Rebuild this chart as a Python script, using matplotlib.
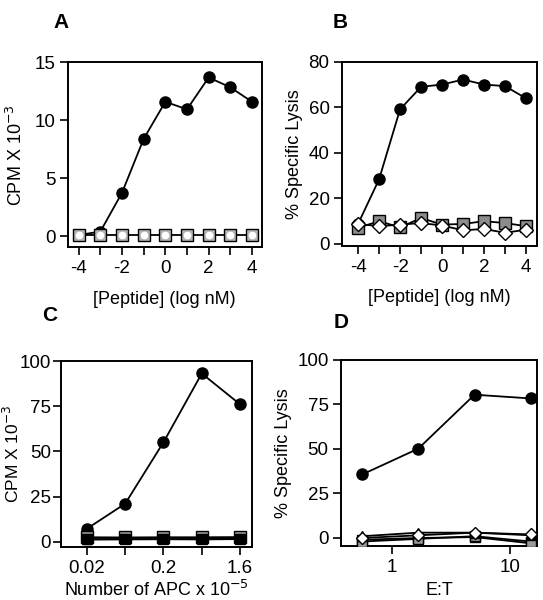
import numpy as np
import matplotlib.pyplot as plt
from matplotlib.ticker import NullLocator

plt.rcParams['font.family'] = ['Liberation Sans', 'DejaVu Sans']
plt.rcParams['font.size'] = 12

# Panel A / B : peptide dose (log nM)
peptide = [-4, -3, -2, -1, 0, 1, 2, 3, 4]
a_circle = [0.1, 0.4, 3.75, 8.4, 11.6, 10.95, 13.7, 12.85, 11.6]
a_square = [0.1, 0.1, 0.1, 0.1, 0.1, 0.1, 0.1, 0.1, 0.1]
a_diamond = [0.1, 0.1, 0.1, 0.1, 0.1, 0.1, 0.1, 0.1, 0.1]

b_circle = [8.7, 28.3, 59.1, 69.0, 70.0, 72.2, 70.0, 69.3, 63.9]
b_square = [7.0, 9.9, 7.2, 11.3, 8.4, 8.7, 9.9, 9.1, 7.7]
b_diamond = [8.7, 7.7, 8.4, 9.1, 8.0, 5.9, 6.5, 4.8, 6.2]

# Panel C : number of APC
apc_labels = ["0.02", "", "0.2", "", "1.6"]
c_circle = [7.2, 21.1, 55.1, 93.2, 76.1]
c_square = [2.5, 2.4, 2.5, 2.5, 2.6]
c_black = [1.5, 1.6, 1.5, 1.6, 1.8]
c_triangle = [1.2, 1.3, 1.4, 1.3, 1.5]

# Panel D : E:T ratio
et = [0.56, 1.67, 5, 15]
d_circle = [35.7, 50.2, 80.5, 78.4]
d_triangle = [1.0, 3.0, 3.0, 1.5]
d_diamond = [0.0, 1.5, 3.0, 2.0]
d_grey = [-2.0, -0.5, 1.0, -2.0]
d_black = [-1.0, 0.0, 0.5, -3.0]

fig = plt.figure(figsize=(5.43, 6.0), dpi=100)
axA = fig.add_axes([0.125, 0.588, 0.357, 0.308])
axB = fig.add_axes([0.630, 0.590, 0.359, 0.307])
axC = fig.add_axes([0.112, 0.088, 0.352, 0.310])
axD = fig.add_axes([0.628, 0.090, 0.361, 0.310])

lw = 1.3
circ = dict(marker='o', color='black', ms=8, lw=lw, mfc='black', mec='black')
lab_fs = 13

def style(ax, pad=3):
    for s in ax.spines.values():
        s.set_linewidth(1.4)
    ax.tick_params(direction='out', length=6, width=1.2, labelsize=13.5, pad=3)
    ax.tick_params(axis='y', pad=pad)

# A
axA.plot(peptide, a_circle, **circ, zorder=3)
axA.plot(peptide, a_square, marker='s', color='black', ms=8, lw=lw, mfc='#b5b5b5', mec='black', zorder=4)
axA.plot(peptide, a_diamond, marker='o', color='black', ms=4.5, lw=0, mfc='white', mec='white', zorder=5)
axA.set_xlim(-4.5, 4.45)
axA.set_ylim(-0.95, 15)
axA.set_xticks(peptide)
axA.set_xticklabels([str(p) if p % 2 == 0 else "" for p in peptide])
axA.set_yticks([0, 5, 10, 15])
axA.set_ylabel("CPM X 10$^{-3}$", fontsize=lab_fs, labelpad=6)
axA.set_xlabel("[Peptide] (log nM)", fontsize=lab_fs, labelpad=10)
style(axA)

# B
axB.plot(peptide, b_circle, **circ, zorder=3)
axB.plot(peptide, b_square, marker='s', color='black', ms=8, lw=lw, mfc='#8c8c8c', mec='black', zorder=4)
axB.plot(peptide, b_diamond, marker='D', color='black', ms=7, lw=lw, mfc='white', mec='black', zorder=5)
axB.set_xlim(-4.76, 4.52)
axB.set_ylim(-1, 80)
axB.set_xticks(peptide)
axB.set_xticklabels([str(p) if p % 2 == 0 else "" for p in peptide])
axB.set_yticks([0, 20, 40, 60, 80])
axB.set_ylabel("% Specific Lysis", fontsize=lab_fs, labelpad=4)
axB.set_xlabel("[Peptide] (log nM)", fontsize=lab_fs, labelpad=10)
style(axB)

# C
xc = np.arange(len(apc_labels))
axC.plot(xc, c_circle, **circ, zorder=3)
axC.plot(xc, c_square, marker='s', color='black', ms=8, lw=lw, mfc='#9a9a9a', mec='black', zorder=4)
axC.plot(xc, c_black, marker='s', color='black', ms=7, lw=lw, mfc='black', mec='black', zorder=5)
axC.plot(xc, c_triangle, marker='^', color='black', ms=6, lw=lw, mfc='black', mec='black', zorder=6)
axC.set_xlim(-0.68, 4.31)
axC.set_ylim(-3, 100)
axC.set_xticks(xc)
axC.set_xticklabels(apc_labels)
axC.set_yticks([0, 25, 50, 75, 100])
axC.set_ylabel("CPM X 10$^{-3}$", fontsize=12.5)
axC.yaxis.set_label_coords(-0.205, 0.5)
axC.set_xlabel("Number of APC x 10$^{-5}$", fontsize=lab_fs, labelpad=2)
style(axC, pad=1)

# D
axD.plot(et, d_circle, **circ, zorder=3)
axD.plot(et, d_black, marker='s', color='black', ms=7, lw=lw, mfc='black', mec='black', zorder=4)
axD.plot(et, d_grey, marker='s', color='black', ms=7, lw=lw, mfc='#9a9a9a', mec='black', zorder=5)
axD.plot(et, d_triangle, marker='^', color='black', ms=7, lw=lw, mfc='black', mec='black', zorder=6)
axD.plot(et, d_diamond, marker='D', color='black', ms=6.5, lw=lw, mfc='white', mec='black', zorder=7)
axD.set_xscale('log')
axD.set_xlim(0.37, 16.9)
axD.set_ylim(-4.5, 100)
axD.set_xticks([1, 10])
axD.set_xticklabels(["1", "10"])
axD.xaxis.set_minor_locator(NullLocator())
axD.set_yticks([0, 25, 50, 75, 100])
axD.set_ylabel("% Specific Lysis", fontsize=lab_fs, labelpad=4)
axD.set_xlabel("E:T", fontsize=lab_fs, labelpad=5)
style(axD)

for lab, x, y in [("A", 0.098, 0.978), ("B", 0.613, 0.978), ("C", 0.078, 0.49), ("D", 0.615, 0.478)]:
    fig.text(x, y, lab, fontsize=15, fontweight='bold', va='top', ha='left')

fig.savefig("out.png", dpi=100)
